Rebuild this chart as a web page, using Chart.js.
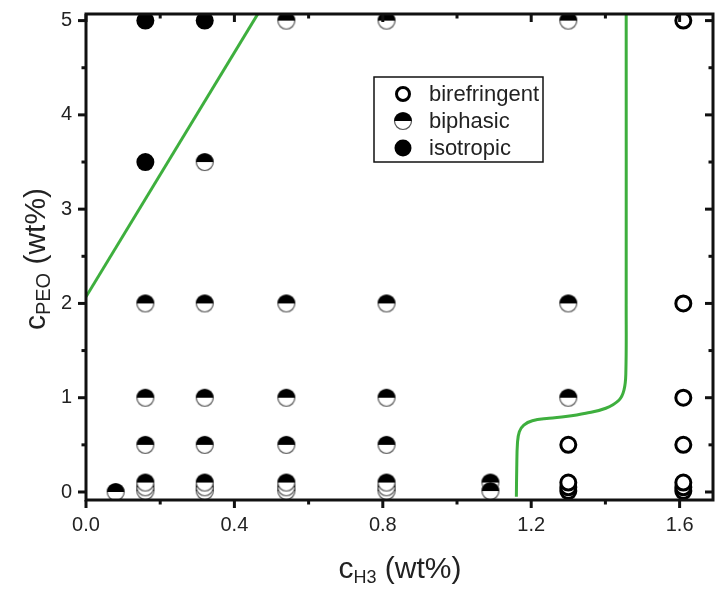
<!DOCTYPE html>
<html><head><meta charset="utf-8">
<script src="https://cdn.jsdelivr.net/npm/chart.js@4.4.0/dist/chart.umd.min.js"></script>
<style>html,body{margin:0;padding:0;background:#fff;}#wrap{width:719px;height:592px;}</style>
</head><body><div id="wrap"><canvas id="c" width="719" height="592"></canvas></div>
<script>
// ---- data ----
const seriesNames = ['birefringent', 'biphasic', 'isotropic'];
const birefringentX = [1.30, 1.30, 1.30, 1.30, 1.61, 1.61, 1.61, 1.61, 1.61, 1.61, 1.61];
const birefringentY = [0.01, 0.05, 0.1, 0.5, 0.01, 0.05, 0.1, 0.5, 1, 2, 5];
const biphasicX = [0.08,
  0.16, 0.16, 0.16, 0.16, 0.16, 0.16,
  0.32, 0.32, 0.32, 0.32, 0.32, 0.32, 0.32,
  0.54, 0.54, 0.54, 0.54, 0.54, 0.54, 0.54,
  0.81, 0.81, 0.81, 0.81, 0.81, 0.81, 0.81,
  1.09, 1.09,
  1.30, 1.30, 1.30];
const biphasicY = [0,
  0.01, 0.05, 0.1, 0.5, 1, 2,
  0.01, 0.05, 0.1, 0.5, 1, 2, 3.5,
  0.01, 0.05, 0.1, 0.5, 1, 2, 5,
  0.01, 0.05, 0.1, 0.5, 1, 2, 5,
  0.1, 0.01,
  1, 2, 5];
const isotropicX = [0.16, 0.16, 0.32];
const isotropicY = [3.5, 5, 5];
const boundaryLeftX = [0, 0.48];
const boundaryLeftY = [2.07, 5.18];
const boundaryRightX = [1.160, 1.161, 1.163, 1.168, 1.180, 1.203, 1.248, 1.293, 1.347, 1.401, 1.437, 1.450, 1.455, 1.456, 1.456];
const boundaryRightY = [-0.05, 0.25, 0.52, 0.64, 0.71, 0.756, 0.782, 0.80, 0.835, 0.888, 0.976, 1.08, 1.25, 2.0, 5.2];
const xTickValues = [0, 0.4, 0.8, 1.2, 1.6];
const xTickLabels = ['0.0', '0.4', '0.8', '1.2', '1.6'];
const xMinorTicks = [0.2, 0.6, 1.0, 1.4];
const yTickValues = [0, 1, 2, 3, 4, 5];
const yTickLabels = ['0', '1', '2', '3', '4', '5'];
const yMinorTicks = [0.5, 1.5, 2.5, 3.5, 4.5];

const zip = (xs, ys) => xs.map((x, i) => ({x: x, y: ys[i]}));

// ---- marker images ----
function biphasicMarker(r) {
  const s = Math.ceil(2 * r + 3);
  const c = document.createElement('canvas');
  c.width = s; c.height = s;
  const g = c.getContext('2d');
  const m = s / 2;
  g.beginPath(); g.arc(m, m, r, 0, Math.PI * 2);
  g.fillStyle = '#fff'; g.fill();
  g.lineWidth = 1.2; g.strokeStyle = '#555'; g.stroke();
  g.beginPath(); g.arc(m, m, r + 0.3, Math.PI, Math.PI * 2); g.closePath();
  g.fillStyle = '#000'; g.fill();
  return c;
}
const biphasicImg = biphasicMarker(8.5);

const FONT = '"Liberation Sans", Arial, sans-serif';
const TXT = '#222';

const frameTicks = {
  id: 'frameTicks',
  afterDraw(chart) {
    const ctx = chart.ctx, a = chart.chartArea;
    const xs = chart.scales.x, ys = chart.scales.y;
    ctx.save();
    ctx.strokeStyle = '#111';
    ctx.lineWidth = 3;
    ctx.strokeRect(a.left, a.top, a.right - a.left, a.bottom - a.top);
    ctx.lineCap = 'butt';
    const tick = (x1, y1, x2, y2) => { ctx.beginPath(); ctx.moveTo(x1, y1); ctx.lineTo(x2, y2); ctx.stroke(); };
    const MAJ = 8, MIN = 4.5;
    xTickValues.forEach(v => { const p = xs.getPixelForValue(v); tick(p, a.bottom, p, a.bottom + MAJ); tick(p, a.top, p, a.top + MAJ); });
    xMinorTicks.forEach(v => { const p = xs.getPixelForValue(v); tick(p, a.bottom, p, a.bottom + MIN); tick(p, a.top, p, a.top + MIN); });
    yTickValues.forEach(v => { const p = ys.getPixelForValue(v); tick(a.left, p, a.left - MAJ, p); tick(a.right, p, a.right - MAJ, p); });
    yMinorTicks.forEach(v => { const p = ys.getPixelForValue(v); tick(a.left, p, a.left - MIN, p); tick(a.right, p, a.right - MIN, p); });

    // axis titles
    ctx.fillStyle = TXT;
    ctx.textBaseline = 'alphabetic';
    const big = '30px ' + FONT, sub = '18px ' + FONT, subY = '20px ' + FONT;
    // x title
    ctx.font = big; const wc = ctx.measureText('c').width; const wt = ctx.measureText(' (wt%)').width;
    ctx.font = sub; const ws = ctx.measureText('H3').width;
    let x0 = 400 - (wc + ws + wt) / 2, by = 578;
    ctx.textAlign = 'left';
    ctx.font = big; ctx.fillText('c', x0, by);
    ctx.font = sub; ctx.fillText('H3', x0 + wc, by + 5);
    ctx.font = big; ctx.fillText(' (wt%)', x0 + wc + ws, by);
    // y title
    ctx.save();
    ctx.translate(45, 259);
    ctx.rotate(-Math.PI / 2);
    ctx.font = big; const wc2 = ctx.measureText('c').width; const wt2 = ctx.measureText(' (wt%)').width;
    ctx.font = subY; const ws2 = ctx.measureText('PEO').width;
    let y0 = -(wc2 + ws2 + wt2) / 2;
    ctx.font = big; ctx.fillText('c', y0, 0);
    ctx.font = subY; ctx.fillText('PEO', y0 + wc2, 5);
    ctx.font = big; ctx.fillText(' (wt%)', y0 + wc2 + ws2, 0);
    ctx.restore();

    // legend
    ctx.lineWidth = 1.5; ctx.strokeStyle = '#111';
    ctx.strokeRect(374, 77, 169, 85);
    const rows = [94, 121, 148];
    ctx.font = '22px ' + FONT; ctx.textBaseline = 'middle'; ctx.fillStyle = TXT;
    seriesNames.forEach((n, i) => ctx.fillText(n, 429, rows[i] + 1));
    ctx.beginPath(); ctx.arc(403, rows[0], 6.5, 0, Math.PI * 2); ctx.fillStyle = '#fff'; ctx.fill();
    ctx.lineWidth = 3; ctx.strokeStyle = '#000'; ctx.stroke();
    ctx.drawImage(biphasicImg, 403 - biphasicImg.width / 2, rows[1] - biphasicImg.height / 2);
    ctx.beginPath(); ctx.arc(403, rows[2], 8.5, 0, Math.PI * 2); ctx.fillStyle = '#000'; ctx.fill();
    ctx.restore();
  }
};

const green = 'rgb(62,175,62)';
new Chart(document.getElementById('c'), {
  type: 'scatter',
  data: {
    datasets: [
      {label: 'left boundary', type: 'line', data: zip(boundaryLeftX, boundaryLeftY), borderColor: green, borderWidth: 3, pointRadius: 0, fill: false, clip: 0, tension: 0},
      {label: 'right boundary', type: 'line', data: zip(boundaryRightX, boundaryRightY), borderColor: green, borderWidth: 3, pointRadius: 0, fill: false, clip: 0, tension: 0.4},
      {label: seriesNames[1], data: zip(biphasicX, biphasicY), pointStyle: biphasicImg, pointRadius: 9, clip: 0},
      {label: seriesNames[0], data: zip(birefringentX, birefringentY), pointStyle: 'circle', pointRadius: 7.5, borderWidth: 3, borderColor: '#000', backgroundColor: '#fff', clip: 0},
      {label: seriesNames[2], data: zip(isotropicX, isotropicY), pointStyle: 'circle', pointRadius: 9, borderWidth: 0, backgroundColor: '#000', clip: 0}
    ]
  },
  options: {
    responsive: false, animation: false, devicePixelRatio: 1,
    layout: {autoPadding: false, padding: {top: 14, right: 6, left: 0, bottom: 0}},
    plugins: {legend: {display: false}, tooltip: {enabled: false}},
    elements: {point: {hoverRadius: 9}},
    scales: {
      x: {
        type: 'linear', position: 'bottom', min: 0, max: 1.69,
        grid: {display: false, drawTicks: false}, border: {display: false},
        afterBuildTicks: s => { s.ticks = xTickValues.map(v => ({value: v})); },
        afterFit: s => { s.height = 92; s.paddingLeft = 0; s.paddingRight = 0; },
        ticks: {font: {family: FONT, size: 20}, color: TXT, padding: 13, maxRotation: 0,
          callback: v => xTickLabels[xTickValues.indexOf(v)]}
      },
      y: {
        type: 'linear', position: 'left', min: -0.085, max: 5.07,
        grid: {display: false, drawTicks: false}, border: {display: false},
        afterBuildTicks: s => { s.ticks = yTickValues.map(v => ({value: v})); },
        afterFit: s => { s.width = 86; s.paddingTop = 0; s.paddingBottom = 0; },
        ticks: {font: {family: FONT, size: 20}, color: TXT, padding: 14,
          callback: v => yTickLabels[yTickValues.indexOf(v)]}
      }
    }
  },
  plugins: [frameTicks]
});
</script>
</body></html>
